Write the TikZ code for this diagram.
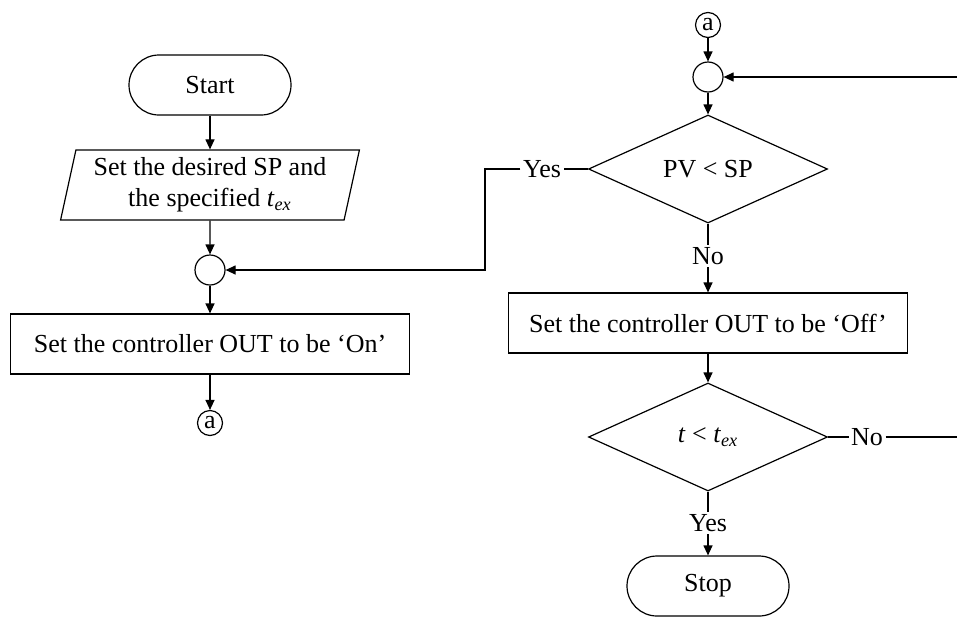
\documentclass[tikz,border=0pt]{standalone}
\usepackage{fontspec}
\setmainfont{Liberation Serif}
\usetikzlibrary{arrows.meta, shapes.geometric, positioning}

\tikzset{
  term/.style={draw, rectangle, rounded corners=15pt, minimum width=81pt, minimum height=30pt},
  proc/.style={draw, rectangle, minimum width=199.5pt, minimum height=30pt},
  io/.style={draw, trapezium, trapezium left angle=77, trapezium right angle=103,
    trapezium stretches=true, minimum width=149.5pt, minimum height=35pt, align=center, inner sep=1pt},
  decision/.style={draw, diamond, minimum width=119.5pt, minimum height=54pt, inner sep=0pt},
  junc/.style={draw, circle, minimum size=15pt, inner sep=0pt},
  conn/.style={draw, circle, minimum size=12.5pt, inner sep=0pt},
  lbl/.style={inner sep=1pt},
}

\begin{document}
\begin{tikzpicture}[x=0.5pt, y=-0.5pt, >={Triangle[length=5pt,width=4.5pt]},
    line width=0.6pt, font=\fontsize{13}{15.5}\selectfont]
        \useasboundingbox (0,0) rectangle (957,616);

        % 左の列
        \node[term] (start) at (210,85) {Start};
        \node[io] (input) at (210,185) {Set the desired SP and\\the specified \textit{t}\textsubscript{\textit{ex}}};
        \node[junc] (j1) at (210,270) {};
        \node[proc] (on) at (210,344) {Set the controller OUT to be ‘On’};
        \node[conn] (a1) at (210,423) {a};

        % 右の列
        \node[conn] (a2) at (708,25) {a};
        \node[junc] (j2) at (708,77) {};
        \node[decision] (cmp) at (708,169) {PV < SP};
        \node[lbl] (yes1) at (542,169) {Yes};
        \node[lbl] (no1) at (708,256) {No};
        \node[proc] (off) at (708,323) {Set the controller OUT to be ‘Off’};
        \node[decision] (tchk) at (708,437) {\textit{t} < \textit{t}\textsubscript{\textit{ex}}};
        \node[lbl] (no2) at (867,437) {No};
        \node[lbl] (yes2) at (708,523) {Yes};
        \node[term] (stop) at (708,586) {Stop};

        % 折れ点と右端
        \coordinate (ybend) at (485,270);
        \coordinate (redge1) at (957,77);
        \coordinate (redge2) at (957,437);

        % 接続線
        \draw[->] (start) -- (input);
        \draw[->] (input) -- (j1);
        \draw[->] (j1) -- (on);
        \draw[->] (on) -- (a1);
        \draw[->] (a2) -- (j2);
        \draw[->] (j2) -- (cmp);
        \draw (cmp.west) -- (yes1.east);
        \draw[->] (yes1.west) -| (ybend) -- (j1.east);
        \draw (cmp.south) -- (no1.north);
        \draw[->] (no1) -- (off);
        \draw[->] (off) -- (tchk);
        \draw (tchk.east) -- (no2.west);
        \draw (no2.east) -- (redge2);
        \draw[->] (redge1) -- (j2.east);
        \draw (tchk.south) -- (yes2.north);
        \draw[->] (yes2) -- (stop);
    \end{tikzpicture}
\end{document}
